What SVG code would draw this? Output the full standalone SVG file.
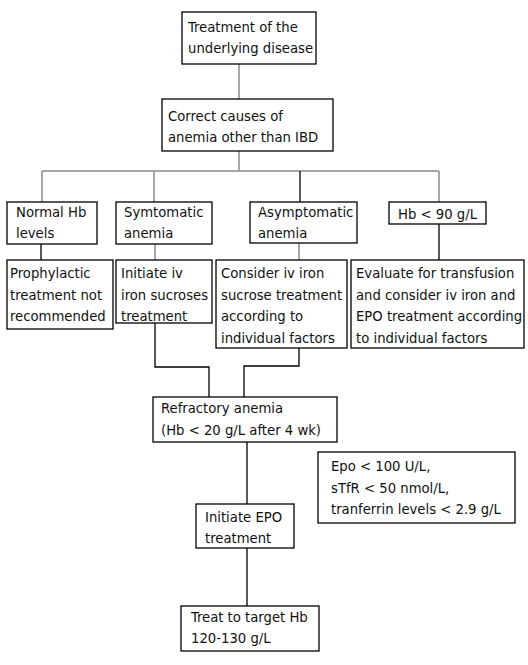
<svg xmlns="http://www.w3.org/2000/svg" width="528" height="665" viewBox="0 0 528 665">
<style>
rect.b{fill:#fff;stroke:#000;stroke-width:1.3}
text{font-family:"DejaVu Sans Condensed","DejaVu Sans",sans-serif;font-size:14.7px;fill:#111}
.g{stroke:#8a8a8a;stroke-width:1.5;fill:none}
.k{stroke:#000;stroke-width:1.3;fill:none}
</style>
<rect width="528" height="665" fill="#fff"/>
<g id="connectors">
<path class="g" d="M239 64V99"/>
<path class="g" d="M239 151V171"/>
<path class="g" d="M42 171H439"/>
<path class="g" d="M42 171V202"/>
<path class="g" d="M154 171V202"/>
<path class="k" d="M300 171V202"/>
<path class="g" d="M439 171V202"/>
<path class="k" d="M41 244V260"/>
<path class="g" d="M155 244V260"/>
<path class="g" d="M299 243V260"/>
<path class="k" d="M439 224V260"/>
<path class="k" d="M155 323V367H209V397"/>
<path class="k" d="M299 348V366H244V397"/>
<path class="k" d="M247 442V504"/>
<path class="k" d="M247 548V606"/>
</g>
<g id="n1"><rect class="b" x="182" y="12" width="134" height="52"/><text x="188" y="32">Treatment of the</text><text x="188" y="53">underlying disease</text></g>
<g id="n2"><rect class="b" x="162" y="99" width="171" height="52"/><text x="168" y="121">Correct causes of</text><text x="168" y="142">anemia other than IBD</text></g>
<g id="n3"><rect class="b" x="7" y="202" width="90" height="42"/><text x="16" y="217">Normal Hb</text><text x="16" y="238">levels</text></g>
<g id="n4"><rect class="b" x="116" y="202" width="96" height="42"/><text x="124" y="217">Symtomatic</text><text x="124" y="238">anemia</text></g>
<g id="n5"><rect class="b" x="250" y="202" width="107" height="41"/><text x="258" y="217">Asymptomatic</text><text x="258" y="238">anemia</text></g>
<g id="n6"><rect class="b" x="389" y="202" width="97" height="22"/><text x="398" y="219">Hb &lt; 90 g/L</text></g>
<g id="n7"><rect class="b" x="7" y="260" width="106" height="69"/><text x="10" y="278">Prophylactic</text><text x="10" y="300">treatment not</text><text x="10" y="321">recommended</text></g>
<g id="n8"><rect class="b" x="116" y="260" width="96" height="63"/><text x="121" y="278">Initiate iv</text><text x="121" y="300">iron sucroses</text><text x="121" y="321">treatment</text></g>
<g id="n9"><rect class="b" x="216" y="260" width="131" height="88"/><text x="221" y="278">Consider iv iron</text><text x="221" y="300">sucrose treatment</text><text x="221" y="321">according to</text><text x="221" y="343">individual factors</text></g>
<g id="n10"><rect class="b" x="351" y="260" width="173" height="88"/><text x="356" y="278">Evaluate for transfusion</text><text x="356" y="300">and consider iv iron and</text><text x="356" y="321">EPO treatment according</text><text x="356" y="343">to individual factors</text></g>
<g id="n11"><rect class="b" x="153" y="397" width="184" height="45"/><text x="161" y="413">Refractory anemia</text><text x="161" y="435">(Hb &lt; 20 g/L after 4 wk)</text></g>
<g id="n12"><rect class="b" x="318" y="452" width="197" height="71"/><text x="331" y="471">Epo &lt; 100 U/L,</text><text x="331" y="493">sTfR &lt; 50 nmol/L,</text><text x="331" y="514">tranferrin levels &lt; 2.9 g/L</text></g>
<g id="n13"><rect class="b" x="196" y="504" width="98" height="44"/><text x="205" y="522">Initiate EPO</text><text x="205" y="543">treatment</text></g>
<g id="n14"><rect class="b" x="181" y="606" width="138" height="45"/><text x="191" y="622">Treat to target Hb</text><text x="191" y="643">120-130 g/L</text></g>
</svg>
